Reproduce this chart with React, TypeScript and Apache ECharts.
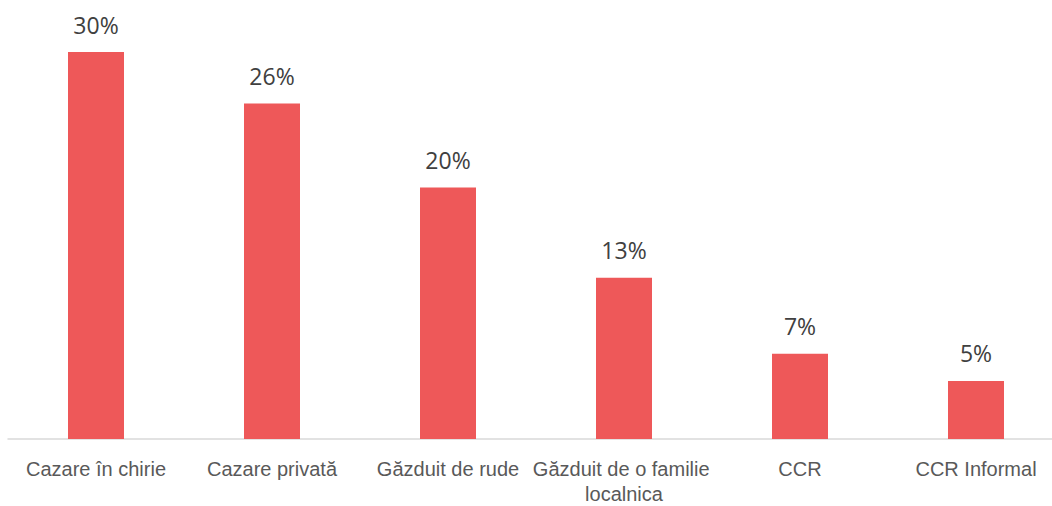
import React, { useEffect, useRef } from "react";
import * as echarts from "echarts";

const categories = [
  "Cazare în chirie",
  "Cazare privată",
  "Găzduit de rude",
  "Găzduit de o familie localnica",
  "CCR",
  "CCR Informal",
];
const values = [30, 26, 19.5, 12.5, 6.6, 4.5];

export default function App() {
  const ref = useRef<HTMLDivElement>(null);
  useEffect(() => {
    if (!ref.current) return;
    const chart = echarts.init(ref.current, undefined, { renderer: "svg" });
    chart.setOption({
      animation: false,
      grid: {
        left: 8,
        width: 1056,
        top: 52,
        bottom: 67,
        containLabel: false,
        outerBoundsMode: "none",
      },
      xAxis: {
        type: "category",
        data: categories,
        axisTick: { show: false },
        axisLine: { lineStyle: { color: "#d9d9d9", width: 1.5 } },
        axisLabel: {
          interval: 0,
          color: "#595959",
          fontFamily: "'Liberation Sans', Arial, sans-serif",
          fontSize: 20,
          lineHeight: 25,
          margin: 17,
          width: 200,
          overflow: "break",
        },
      },
      yAxis: { type: "value", min: 0, max: 30, show: false, splitLine: { show: false } },
      series: [
        {
          type: "bar",
          data: values,
          barWidth: 56,
          itemStyle: { color: "#EE5859" },
          label: {
            show: true,
            position: "top",
            distance: 16,
            color: "#404040",
            fontFamily: "'Open Sans', 'Noto Sans', sans-serif",
            fontSize: 23,
            formatter: (p: any) => Math.round(p.value) + "%",
          },
        },
      ],
    });
    return () => chart.dispose();
  }, []);
  return (
    <div
      ref={ref}
      style={{ position: "absolute", left: 0, top: 0, width: 1052, height: 506 }}
    />
  );
}
